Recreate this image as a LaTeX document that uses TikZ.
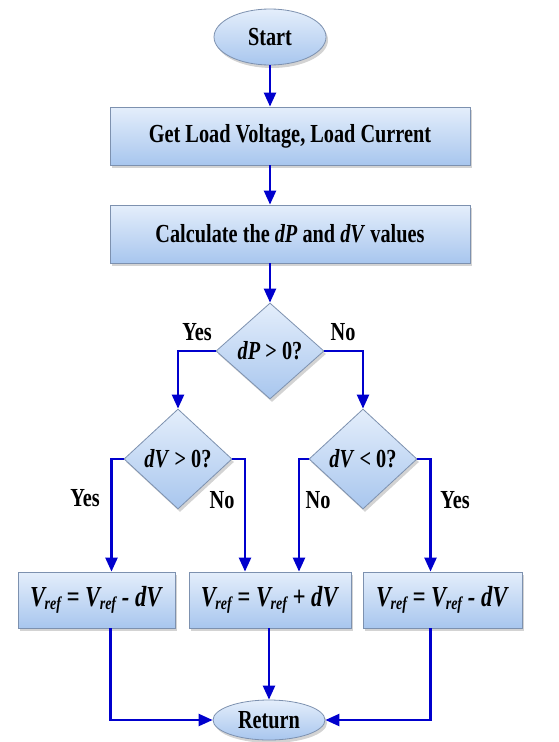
\documentclass[tikz,border=0pt]{standalone}
\usepackage{fontspec}
\setmainfont{Liberation Serif}[FakeStretch=0.78]
\usetikzlibrary{shapes.geometric,arrows.meta,shadows}
\definecolor{flow}{RGB}{0,0,205}
\definecolor{ftop}{RGB}{228,238,251}
\definecolor{fbot}{RGB}{168,198,238}
\definecolor{fedge}{RGB}{125,145,175}
\newcommand{\Vr}{\textit{V}\kern-0.5pt\raisebox{-3pt}{\fontsize{18}{18}\selectfont\textit{ref}}}
\begin{document}
\begin{tikzpicture}[x=1pt,y=-1pt,
 base/.style={draw=fedge, line width=0.8pt, top color=ftop, bottom color=fbot,
   font=\fontsize{26}{30}\selectfont\bfseries,
   drop shadow={shadow xshift=2pt,shadow yshift=-3pt,opacity=0.35}, inner sep=0pt},
 procbox/.style={base, rectangle, minimum height=58pt},
 eqbox/.style={procbox, minimum height=56pt, font=\fontsize{29}{32}\selectfont\bfseries},
 term/.style={base, ellipse, minimum width=112pt},
 decide/.style={base, diamond, minimum width=108pt, minimum height=96pt},
 arr/.style={draw=flow, line width=2.4pt, -{Triangle[length=14pt,width=12pt]}},
 lbl/.style={font=\fontsize{26}{30}\selectfont\bfseries, inner sep=0pt}]
\useasboundingbox (0,0) rectangle (559,742);

\node[term, minimum height=56pt] (start) at (270,37) {Start};
\node[procbox, minimum width=360pt] (b1) at (290,136) {Get Load Voltage, Load Current};
\node[procbox, minimum width=360pt] (b2) at (290,234) {Calculate the \textit{dP} and \textit{dV} values};
\node[decide] (d1) at (270,351) {\textit{dP} > 0?};
\node[decide, minimum height=100pt] (d2) at (178,459) {\textit{dV} > 0?};
\node[decide, minimum height=100pt] (d3) at (363,459) {\textit{dV} < 0?};
\node[eqbox, minimum width=157pt] (ba) at (96.5,600) {\textit{\Vr\ = \Vr\ - dV}};
\node[eqbox, minimum width=162pt] (bb) at (270,600) {\textit{\Vr\ = \Vr\ + dV}};
\node[eqbox, minimum width=159pt] (bc) at (442.5,600) {\textit{\Vr\ = \Vr\ - dV}};
\node[term, minimum height=40pt] (ret) at (269,720) {Return};

\node[lbl] (y1) at (197,332) {Yes};
\node[lbl] (n1) at (343,332) {No};
\node[lbl] (y2) at (85,498) {Yes};
\node[lbl] (n2) at (222,500) {No};
\node[lbl] (n3) at (318,500) {No};
\node[lbl] (y3) at (455,500) {Yes};

\draw[arr] (start) -- (start |- b1.north);
\draw[arr] (b1.south -| start) -- (b2.north -| start);
\draw[arr] (b2.south -| d1) -- (d1.north);
\draw[arr] (d1.west) -| (d2.north);
\draw[arr] (d1.east) -| (d3.north);
\draw[arr] (d2.west) -| ([xshift=15pt]ba.north);
\draw[arr] (d2.east) -| ([xshift=-25pt]bb.north);
\draw[arr] (d3.west) -| ([xshift=29pt]bb.north);
\draw[arr] (d3.east) -| ([xshift=-12pt]bc.north);
\draw[arr] ([xshift=14pt]ba.south) |- (ret.west);
\draw[arr] (bb.south -| ret) -- (ret.north);
\draw[arr] ([xshift=-12pt]bc.south) |- (ret.east);
\end{tikzpicture}
\end{document}
